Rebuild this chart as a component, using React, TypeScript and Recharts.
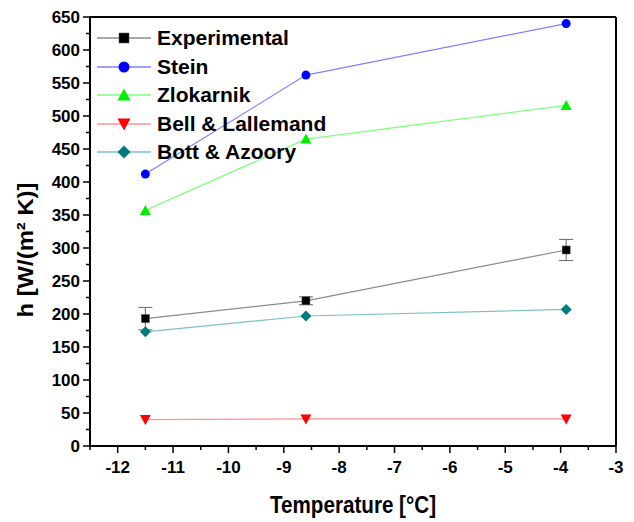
import React from "react";
import {
  LineChart,
  Line,
  XAxis,
  YAxis,
  Legend,
  ErrorBar,
  ReferenceLine,
  Label,
} from "recharts";

const temperatures = [-11.5, -8.6, -3.9];
const experimental = [193, 220, 297];
const experimentalError = [17, 6, 16];
const stein = [412, 562, 640];
const zlokarnik = [357, 465, 516];
const bellLallemand = [40, 41, 41];
const bottAzoory = [173, 197, 207];

const xTicks = [-12.5, -12, -11.5, -11, -10.5, -10, -9.5, -9, -8.5, -8, -7.5, -7, -6.5, -6, -5.5, -5, -4.5, -4, -3.5, -3];
const yTicks = [0, 25, 50, 75, 100, 125, 150, 175, 200, 225, 250, 275, 300, 325, 350, 375, 400, 425, 450, 475, 500, 525, 550, 575, 600, 625, 650];

const data = temperatures.map((t, i) => ({
  t,
  exp: experimental[i],
  expErr: experimentalError[i],
  stein: stein[i],
  zlok: zlokarnik[i],
  bell: bellLallemand[i],
  bott: bottAzoory[i],
}));

type Shape = "square" | "circle" | "up" | "down" | "diamond";

const series: { key: string; name: string; shape: Shape; marker: string; line: string }[] = [
  { key: "exp", name: "Experimental", shape: "square", marker: "#000000", line: "#8a8a8a" },
  { key: "stein", name: "Stein", shape: "circle", marker: "#0000ff", line: "#8080ff" },
  { key: "zlok", name: "Zlokarnik", shape: "up", marker: "#00ee00", line: "#80ff80" },
  { key: "bell", name: "Bell & Lallemand", shape: "down", marker: "#ff0000", line: "#ff9090" },
  { key: "bott", name: "Bott & Azoory", shape: "diamond", marker: "#007b7b", line: "#7fc0c0" },
];

const FONT = "'Liberation Sans', Arial, sans-serif";

function Marker({ shape, cx, cy, s, color }: { shape: Shape; cx: number; cy: number; s: number; color: string }) {
  const h = s / 2;
  if (shape === "square") return <rect x={cx - h + 0.5} y={cy - h + 0.5} width={s - 1} height={s - 1} fill={color} stroke="#555" strokeWidth={0.5} />;
  if (shape === "circle") return <circle cx={cx} cy={cy} r={h} fill={color} />;
  if (shape === "up")
    return <polygon points={`${cx},${cy - h - 1} ${cx + h + 1},${cy + h} ${cx - h - 1},${cy + h}`} fill={color} />;
  if (shape === "down")
    return <polygon points={`${cx - h - 1},${cy - h} ${cx + h + 1},${cy - h} ${cx},${cy + h + 1}`} fill={color} />;
  return <polygon points={`${cx},${cy - h - 1} ${cx + h + 1},${cy} ${cx},${cy + h + 1} ${cx - h - 1},${cy}`} fill={color} />;
}

const XTick = (props: any) => {
  const { x, y, payload } = props;
  const major = Number.isInteger(payload.value);
  return (
    <g>
      <line x1={x} x2={x} y1={y} y2={y + (major ? 7 : 4)} stroke="#000" strokeWidth={1.5} />
      {major && (
        <text x={x} y={y + 27} textAnchor="middle" fontSize={17} fontWeight="bold" fontFamily={FONT} fill="#000">
          {payload.value}
        </text>
      )}
    </g>
  );
};

const YTick = (props: any) => {
  const { x, y, payload } = props;
  const major = payload.value % 50 === 0;
  return (
    <g>
      <line x1={x - (major ? 7 : 4)} x2={x} y1={y} y2={y} stroke="#000" strokeWidth={1.5} />
      {major && (
        <text x={x - 10} y={y + 6} textAnchor="end" fontSize={17} fontWeight="bold" fontFamily={FONT} fill="#000">
          {payload.value}
        </text>
      )}
    </g>
  );
};

const XTitle = (props: any) => {
  const { viewBox } = props;
  const cx = viewBox.x + viewBox.width / 2;
  return (
    <text x={cx} y={513} textAnchor="middle" fontSize={23} fontWeight="bold" fontFamily={FONT} fill="#000"
      textLength={166} lengthAdjust="spacingAndGlyphs">
      Temperature [°C]
    </text>
  );
};

const YTitle = () => (
  <text x={0} y={0} transform="translate(33 250) rotate(-90)" textAnchor="middle" fontSize={22} fontWeight="bold"
    fontFamily={FONT} fill="#000" textLength={135} lengthAdjust="spacingAndGlyphs">
    h [W/(m² K)]
  </text>
);

const renderLegend = () => (
  <div style={{ fontFamily: FONT }}>
    {series.map((s) => (
      <div key={s.key} style={{ display: "flex", alignItems: "center", height: 28.5 }}>
        <svg width={60} height={20}>
          <line x1={0} x2={54} y1={10} y2={10} stroke={s.line} strokeWidth={1.5} />
          <Marker shape={s.shape} cx={27} cy={10} s={11} color={s.marker} />
        </svg>
        <span style={{ fontSize: 21, fontWeight: "bold", color: "#000" }}>{s.name}</span>
      </div>
    ))}
  </div>
);

export default function App() {
  return (
    <div style={{ position: "absolute", left: 0, top: 0, background: "#fff" }}>
      <LineChart width={634} height={522} data={data} margin={{ top: 17, right: 18, bottom: 0, left: 0 }}>
        <XAxis
          dataKey="t"
          type="number"
          domain={[-12.5, -3]}
          ticks={xTicks}
          interval={0}
          tick={<XTick />}
          tickLine={false}
          tickSize={0}
          tickMargin={0}
          height={76}
          axisLine={{ stroke: "#000", strokeWidth: 2 }}
        >
          <Label content={<XTitle />} />
        </XAxis>
        <YAxis
          type="number"
          domain={[0, 650]}
          ticks={yTicks}
          interval={0}
          tick={<YTick />}
          tickLine={false}
          tickSize={0}
          tickMargin={0}
          width={90}
          axisLine={{ stroke: "#000", strokeWidth: 2 }}
        >
          <Label content={<YTitle />} />
        </YAxis>
        <ReferenceLine y={650} stroke="#000" strokeWidth={2} />
        <ReferenceLine x={-3} stroke="#000" strokeWidth={2} />
        <Legend
          layout="vertical"
          align="center"
          verticalAlign="middle"
          content={renderLegend}
          wrapperStyle={{ left: 97, top: 24, width: 260 }}
        />
        {series.map((s) => (
          <Line
            key={s.key}
            dataKey={s.key}
            name={s.name}
            stroke={s.line}
            strokeWidth={1.2}
            isAnimationActive={false}
            dot={(p: any) => (
              <Marker key={`${s.key}-${p.index}`} shape={s.shape} cx={p.cx} cy={p.cy} s={9} color={s.marker} />
            )}
            activeDot={false}
          >
            {s.key === "exp" && <ErrorBar dataKey="expErr" direction="y" width={7} stroke="#666" strokeWidth={1} />}
          </Line>
        ))}
      </LineChart>
    </div>
  );
}
